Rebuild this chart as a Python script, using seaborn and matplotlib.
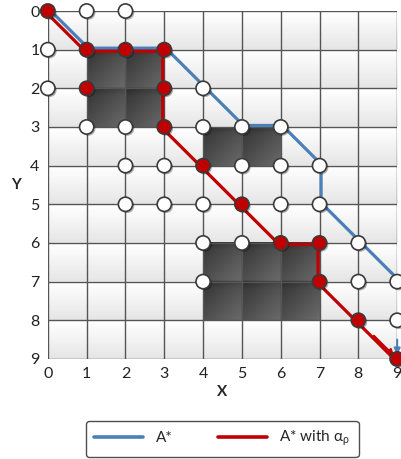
import matplotlib
matplotlib.use("Agg")
import matplotlib.pyplot as plt
import matplotlib.patheffects as pe
from matplotlib.transforms import offset_copy
from matplotlib.lines import Line2D
import seaborn as sns
import pandas as pd
import numpy as np

# paths
astar_x = [0, 1, 3, 5, 6, 7, 7, 9, 9]
astar_y = [0, 1, 1, 3, 3, 4, 5, 7, 9]
alpha_x = [0, 1, 3, 3, 6, 7, 7, 9]
alpha_y = [0, 1, 1, 3, 6, 6, 7, 9]

# visited nodes
red_x = [0, 1, 2, 3, 1, 3, 3, 4, 5, 6, 7, 7, 8, 9]
red_y = [0, 1, 1, 1, 2, 2, 3, 4, 5, 6, 6, 7, 8, 9]
white_x = [1, 2, 0, 0, 4, 1, 2, 4, 5, 6, 2, 3, 5, 6, 7, 2, 3, 4, 6, 7, 4, 5, 8, 4, 8, 9, 9]
white_y = [0, 0, 1, 2, 2, 3, 3, 3, 3, 3, 4, 4, 4, 4, 4, 5, 5, 5, 5, 5, 6, 6, 6, 7, 7, 7, 8]

# obstacles (x0, y0, width, height)
obstacles = [(1, 1, 2, 2), (4, 3, 2, 1), (4, 6, 3, 2)]

ticks = list(range(10))
blue = "#4a7fb8"
red = "#c00000"

sns.set_style("white")
plt.rcParams["font.family"] = ["Lato", "DejaVu Sans"]

fig = plt.figure(figsize=(4.02, 4.59), dpi=100)
ax = fig.add_axes([0.119, 0.218, 0.869, 0.758])

# cell background gradient
n = 20
cell = np.linspace(1.0, 0.9, n)[:, None] * np.ones((1, n))
bg = np.tile(cell, (9, 9))
ax.imshow(bg, cmap="gray", vmin=0, vmax=1, extent=(0, 9, 9, 0), zorder=0,
          interpolation="bilinear", aspect="auto")

# obstacles with shaded cells
u = (np.arange(n) + 0.5) / n - 0.5
dx, dy = np.meshgrid(u, u)
shade = 0.31 + 0.11 * (dx + dy) - 0.04 * np.exp(-((dy + 0.5) / 0.12) ** 2)
for x0, y0, w, h in obstacles:
    img = np.tile(shade, (h, w))
    ax.imshow(img, cmap="gray", vmin=0, vmax=1, extent=(x0, x0 + w, y0 + h, y0),
              zorder=1, interpolation="bilinear", aspect="auto")

# grid
for t in ticks:
    ax.axvline(t, color="#555555", lw=1.0, zorder=2)
    ax.axhline(t, color="#555555", lw=1.0, zorder=2)

paths = pd.concat([
    pd.DataFrame({"x": astar_x, "y": astar_y, "path": "A*"}),
    pd.DataFrame({"x": alpha_x, "y": alpha_y, "path": "alpha"}),
])
sns.lineplot(data=paths, x="x", y="y", hue="path", palette={"A*": blue, "alpha": red},
             estimator=None, sort=False, lw=2.3, ax=ax, legend=False, zorder=3)
ax.lines[-2].set_transform(offset_copy(ax.transData, fig=fig, x=1.1, y=1.1, units="points"))
ax.lines[-1].set_transform(offset_copy(ax.transData, fig=fig, x=-1.1, y=-1.1, units="points"))
for ln in ax.lines[-2:]:
    ln.set_solid_capstyle("butt")

# arrowheads
ax.annotate("", xy=(astar_x[-1], astar_y[-1]), xytext=(astar_x[-2], astar_y[-2] + 1.5),
            arrowprops=dict(arrowstyle="-|>", color=blue, lw=1.5, shrinkA=0, shrinkB=3,
                            mutation_scale=9), zorder=3)
ax.annotate("", xy=(alpha_x[-1], alpha_y[-1]), xytext=(alpha_x[-1] - 0.6, alpha_y[-1] - 0.6),
            arrowprops=dict(arrowstyle="-|>", color=red, lw=1.5, shrinkA=0, shrinkB=3,
                            mutation_scale=9), zorder=3)

nodes = pd.concat([
    pd.DataFrame({"x": white_x, "y": white_y, "kind": "white"}),
    pd.DataFrame({"x": red_x, "y": red_y, "kind": "red"}),
])
sns.scatterplot(data=nodes, x="x", y="y", hue="kind", palette={"white": "white", "red": red},
                s=105, edgecolor="#3a3a3a", linewidth=1.2, ax=ax, legend=False, zorder=4,
                clip_on=False)
for c in ax.collections:
    c.set_clip_on(False)
    c.set_path_effects([pe.SimplePatchShadow(offset=(1.2, -1.2), shadow_rgbFace="#000000",
                                             alpha=0.3), pe.Normal()])

ax.set_xlim(0, 9)
ax.set_ylim(9, 0)
ax.set_xticks(ticks)
ax.set_yticks(ticks)
ax.tick_params(length=0, labelsize=11.5, colors="#222222")
ax.tick_params(axis="x", pad=6)
ax.tick_params(axis="y", pad=6)
for s in ax.spines.values():
    s.set_visible(False)
ax.set_xlabel("X", fontsize=11, fontweight="bold", labelpad=3)
ax.set_ylabel("Y", fontsize=11, fontweight="bold", rotation=0, labelpad=10, va="center")

handles = [Line2D([], [], color=blue, lw=2.6), Line2D([], [], color=red, lw=2.6)]
leg = fig.legend(handles, ["A*", r"A* with $\mathregular{\alpha_\rho}$"], ncol=2, loc="center",
                 bbox_to_anchor=(0.553, 0.044), fontsize=11, frameon=True,
                 handlelength=3.2, columnspacing=3.0, borderpad=0.55, fancybox=True,
                 edgecolor="#222222")
leg.get_frame().set_linewidth(1.0)

fig.savefig("out.png", dpi=100)
